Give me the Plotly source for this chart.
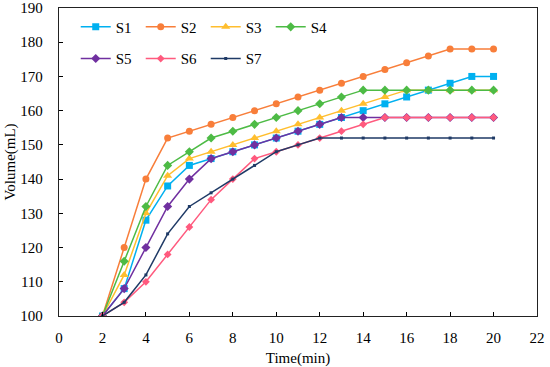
import plotly.graph_objects as go

time = list(range(2, 21))
S1 = [100,108,128,138,144,146,148,150,152,154,156,158,160,162,164,166,168,170,170]
S2 = [100,120,140,152,154,156,158,160,162,164,166,168,170,172,174,176,178,178,178]
S3 = [100,112,130,141,146,148,150,152,154,156,158,160,162,164,166,166,166,166,166]
S4 = [100,116,132,144,148,152,154,156,158,160,162,164,166,166,166,166,166,166,166]
S5 = [100,108,120,132,140,146,148,150,152,154,156,158,158,158,158,158,158,158,158]
S6 = [100,104,110,118,126,134,140,146,148,150,152,154,156,158,158,158,158,158,158]
S7 = [100,104,112,124,132,136,140,144,148,150,152,152,152,152,152,152,152,152,152]

series = [
    ("S1", S1, "#00B0F0", "square", 7, "legend"),
    ("S2", S2, "#F87E3A", "circle", 7, "legend"),
    ("S3", S3, "#FFBE2E", "triangle-up", 8, "legend"),
    ("S4", S4, "#4DBB45", "diamond", 7, "legend"),
    ("S5", S5, "#7030A0", "diamond", 7, "legend2"),
    ("S6", S6, "#FF5A7E", "diamond", 6, "legend2"),
    ("S7", S7, "#1F3A66", "square", 3, "legend2"),
]

fig = go.Figure()
for name, ys, col, sym, sz, lg in series:
    fig.add_trace(go.Scatter(
        x=time, y=ys, name=name, mode="lines+markers",
        line=dict(color=col, width=1.5),
        marker=dict(color=col, symbol=sym, size=sz, line=dict(width=0)),
        legend=lg,
    ))

font = dict(family="Liberation Serif", size=15, color="#000")
legend_common = dict(orientation="h", xanchor="left", yanchor="middle",
                     entrywidth=20, entrywidthmode="pixels", itemwidth=30,
                     bgcolor="rgba(0,0,0,0)", font=font, tracegroupgap=0)

fig.update_layout(
    width=550, height=367,
    margin=dict(l=59, r=13, t=8, b=51),
    paper_bgcolor="white", plot_bgcolor="white",
    font=font,
    showlegend=True,
    legend=dict(x=0.035, y=0.938, **legend_common),
    legend2=dict(x=0.035, y=0.835, **legend_common),
    xaxis=dict(range=[0, 22], dtick=2, tick0=0, ticks="inside", ticklen=4,
               tickcolor="#000", showline=True, linecolor="#222", linewidth=1.3,
               mirror=True, showgrid=False, zeroline=False, automargin=False,
               ticklabelstandoff=8,
               title=dict(text="Time(min)", font=font, standoff=12)),
    yaxis=dict(range=[100, 190], dtick=10, ticks="inside", ticklen=4,
               tickcolor="#000", showline=True, linecolor="#222", linewidth=1.3,
               mirror=True, showgrid=False, zeroline=False, automargin=False,
               ticklabelstandoff=12,
               title=dict(text="Volume(mL)", font=font, standoff=1)),
)

fig.write_html("out.html", config={"displayModeBar": False},
               post_script="document.body.style.margin='0';document.body.style.padding='0';")
